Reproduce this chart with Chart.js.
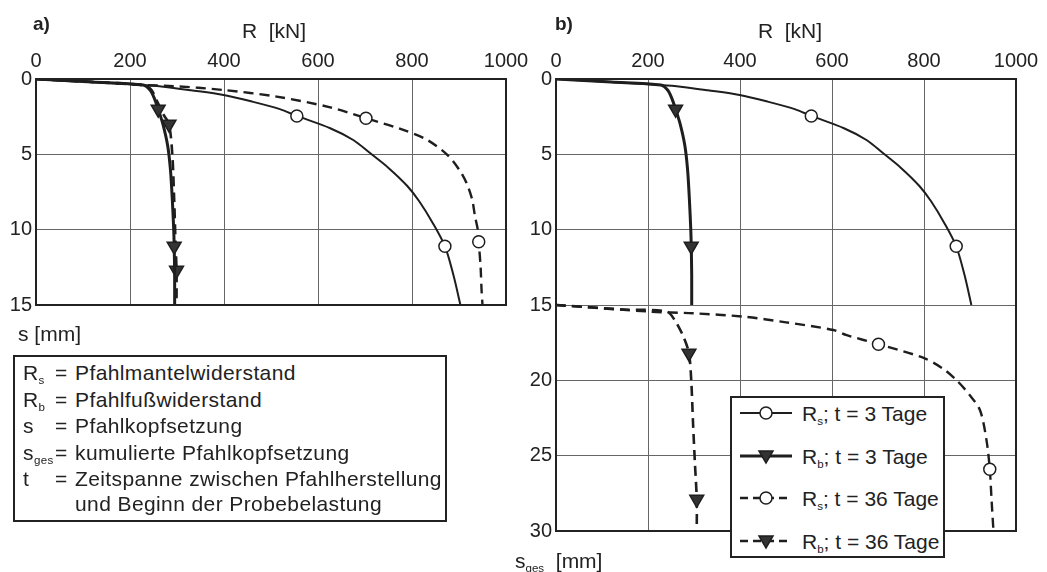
<!DOCTYPE html>
<html lang="de">
<head>
  <meta charset="UTF-8">
  <title>Pfahlprobebelastung</title>
  <style>
    body {
      margin: 0;
      width: 1047px;
      height: 572px;
      overflow: hidden;
      background: white;
      font-family: "Liberation Sans", Arial, sans-serif;
      color: #222;
      position: relative;
    }
    canvas { position: absolute; top: 0; }
    #chartA { left: 0; }
    #chartB { left: 520px; }
    .lbl { position: absolute; white-space: nowrap; line-height: 1; }
    .tag { font-weight: bold; font-size: 19px; top: 14px; }
    .xt { font-size: 21px; top: 20px; transform: translateX(-50%); }
    .yt { font-size: 21px; }
    sub { font-size: 55%; vertical-align: -0.35em; line-height: 0; }

    .defs {
      position: absolute;
      left: 13px; top: 355px;
      width: 430px; height: 160px;
      border: 2px solid #222;
      font-size: 21px;
      letter-spacing: 0.4px;
      line-height: 26.5px;
      padding-top: 3px;
      box-sizing: content-box;
    }
    .defs div { position: relative; padding-left: 60px; height: 26.5px; }
    .defs .k { position: absolute; left: 8px; }
    .defs .eq { position: absolute; left: 40px; }
    .defs .wrap { height: 23px; line-height: 21px; }

    .legend {
      position: absolute;
      left: 730px; top: 396px;
      width: 211px; height: 158px;
      border: 2px solid #222;
      background: white;
    }
    .legend .row { position: absolute; left: 8px; height: 24px; }
    .legend canvas { position: absolute; left: 0; top: 2px; }
    .legend span { position: absolute; left: 62px; top: 1px; font-size: 21px; white-space: nowrap; }
  </style>
</head>
<body>
  <canvas id="chartA" width="545" height="330"></canvas>
  <canvas id="chartB" width="527" height="572"></canvas>

  <div class="lbl tag" style="left:33px">a)</div>
  <div class="lbl tag" style="left:555px">b)</div>
  <div class="lbl xt" style="left:274px">R&nbsp; [kN]</div>
  <div class="lbl xt" style="left:790px">R&nbsp; [kN]</div>
  <div class="lbl yt" style="left:18px; top:323px">s [mm]</div>
  <div class="lbl yt" style="left:515px; top:550px">s<sub>ges</sub>&nbsp; [mm]</div>

  <div class="defs">
    <div><span class="k">R<sub>s</sub></span><span class="eq">=</span>Pfahlmantelwiderstand</div>
    <div><span class="k">R<sub>b</sub></span><span class="eq">=</span>Pfahlfußwiderstand</div>
    <div><span class="k">s</span><span class="eq">=</span>Pfahlkopfsetzung</div>
    <div><span class="k">s<sub>ges</sub></span><span class="eq">=</span>kumulierte Pfahlkopfsetzung</div>
    <div><span class="k">t</span><span class="eq">=</span>Zeitspanne zwischen Pfahlherstellung</div>
    <div class="wrap">und Beginn der Probebelastung</div>
  </div>

  <div class="legend" id="legend"></div>

  <script src="https://cdn.jsdelivr.net/npm/chart.js"></script>
  <script>
    // R [kN] against s [mm]
    const xTicks = [0, 200, 400, 600, 800, 1000];
    const yTicksA = [0, 5, 10, 15];
    const yTicksB = [0, 5, 10, 15, 20, 25, 30];

    const rs3R = [0, 120, 228, 271, 330, 399, 460, 519, 555, 626, 675, 710, 750, 790, 815, 845, 870, 888, 903];
    const rs3S = [0, 0.2, 0.4, 0.51, 0.75, 1.06, 1.5, 2.0, 2.45, 3.27, 4.05, 4.9, 5.9, 7.1, 8.1, 9.6, 11.1, 13, 15];
    const rs3Marks = [8, 16];

    const rb3R = [0, 120, 228, 243, 252, 260, 270, 280, 286, 290, 293, 294, 295, 295];
    const rb3S = [0, 0.2, 0.4, 0.75, 1.3, 2.0, 3.0, 4.4, 6, 8, 10, 11.1, 13, 15];
    const rb3Marks = [5, 11];

    // a): 36 Tage, s
    const rs36R = [0, 120, 228, 292, 399, 512, 626, 702, 774, 830, 874, 900, 916, 928, 934, 940, 942, 946, 948, 950];
    const rs36S = [0, 0.2, 0.4, 0.47, 0.73, 1.17, 1.88, 2.6, 3.3, 4.0, 5.0, 6.0, 6.9, 8.0, 9.1, 10.0, 10.8, 12.5, 14, 15];
    const rs36Marks = [7, 16];

    const rb36R = [0, 120, 228, 245, 258, 272, 283, 290, 294, 297, 299, 299];
    const rb36S = [0, 0.2, 0.4, 0.7, 1.5, 2.4, 3.0, 5, 8, 11, 12.7, 15];
    const rb36Marks = [6, 10];

    // b): 36 Tage, s_ges
    const rs36gR = [0, 204, 298, 407, 500, 603, 632, 701, 798, 840, 871, 900, 922, 936, 943, 947, 951];
    const rs36gS = [15, 15.44, 15.55, 15.77, 16.15, 16.66, 17.0, 17.6, 18.5, 19.2, 20, 21, 22, 24, 25.9, 28, 30];
    const rs36gMarks = [7, 14];

    const rb36gR = [0, 150, 241, 258, 277, 289, 294, 298, 302, 306, 306];
    const rb36gS = [15, 15.3, 15.44, 16.0, 17.1, 18.2, 20, 22.9, 25.5, 27.9, 29.7];
    const rb36gMarks = [5, 9];

    const ink = '#1e1e1e';
    const styles = {
      rs3:  { width: 2,   dash: [],      marker: 'circle' },
      rb3:  { width: 3,   dash: [],      marker: 'triangle' },
      rs36: { width: 2.4, dash: [10, 6], marker: 'circle' },
      rb36: { width: 2.6, dash: [10, 6], marker: 'triangle' }
    };

    function pts(xs, ys) {
      return xs.map((x, i) => ({ x: x, y: ys[i] }));
    }

    function series(xs, ys, marks, st) {
      const tri = st.marker === 'triangle';
      return {
        data: pts(xs, ys),
        showLine: true,
        borderColor: ink,
        borderWidth: st.width,
        borderDash: st.dash,
        tension: 0.3,
        pointStyle: st.marker,
        pointRotation: tri ? 180 : 0,
        pointRadius: ctx => marks.includes(ctx.dataIndex) ? (tri ? 8 : 6) : 0,
        pointHoverRadius: 0,
        pointBackgroundColor: tri ? '#333' : '#fff',
        pointBorderColor: ink,
        pointBorderWidth: 1.5
      };
    }

    const framePlugin = {
      id: 'frame',
      afterDraw(chart) {
        const a = chart.chartArea;
        const ctx = chart.ctx;
        ctx.save();
        ctx.strokeStyle = '#222';
        ctx.lineWidth = 2;
        ctx.strokeRect(a.left, a.top, a.right - a.left, a.bottom - a.top);
        ctx.restore();
      }
    };

    Chart.defaults.font.family = '"Liberation Sans", Arial, sans-serif';
    Chart.defaults.color = '#222';

    function makeChart(id, yTicks, datasets, pad) {
      const yMax = yTicks[yTicks.length - 1];
      return new Chart(document.getElementById(id), {
        type: 'scatter',
        data: { datasets: datasets },
        options: {
          responsive: false,
          animation: false,
          layout: { padding: pad },
          plugins: { legend: { display: false }, tooltip: { enabled: false } },
          scales: {
            x: {
              type: 'linear',
              position: 'top',
              min: 0, max: 1000,
              afterBuildTicks: s => { s.ticks = xTicks.map(v => ({ value: v })); },
              afterFit: s => { s.height = 79; },
              ticks: { font: { size: 20 }, padding: 6, color: '#222', callback: v => String(v) },
              grid: { color: '#666', lineWidth: 1, drawTicks: false },
              border: { display: false }
            },
            y: {
              type: 'linear',
              reverse: true,
              min: 0, max: yMax,
              afterBuildTicks: s => { s.ticks = yTicks.map(v => ({ value: v })); },
              afterFit: s => { s.width = 36; },
              ticks: { font: { size: 20 }, padding: 4, color: '#222', callback: v => String(v) },
              grid: { color: '#666', lineWidth: 1, drawTicks: false },
              border: { display: false }
            }
          }
        },
        plugins: [framePlugin]
      });
    }

    makeChart('chartA', yTicksA, [
      series(rs3R, rs3S, rs3Marks, styles.rs3),
      series(rs36R, rs36S, rs36Marks, styles.rs36),
      series(rb3R, rb3S, rb3Marks, styles.rb3),
      series(rb36R, rb36S, rb36Marks, styles.rb36)
    ], { top: 0, left: 0, right: 39, bottom: 25 });

    makeChart('chartB', yTicksB, [
      series(rs3R, rs3S, rs3Marks, styles.rs3),
      series(rb3R, rb3S, rb3Marks, styles.rb3),
      series(rs36gR, rs36gS, rs36gMarks, styles.rs36),
      series(rb36gR, rb36gS, rb36gMarks, styles.rb36)
    ], { top: 0, left: 0, right: 31, bottom: 41 });

    // legend of b)
    const legendItems = [
      { key: 'rs3',  sub: 's', text: 't = 3 Tage' },
      { key: 'rb3',  sub: 'b', text: 't = 3 Tage' },
      { key: 'rs36', sub: 's', text: 't = 36 Tage' },
      { key: 'rb36', sub: 'b', text: 't = 36 Tage' }
    ];
    const legend = document.getElementById('legend');
    legendItems.forEach((item, i) => {
      const st = styles[item.key];
      const row = document.createElement('div');
      row.className = 'row';
      row.style.top = (3 + i * 42.5) + 'px';
      const c = document.createElement('canvas');
      c.width = 52; c.height = 20;
      const g = c.getContext('2d');
      g.strokeStyle = ink;
      g.lineWidth = st.width;
      g.setLineDash(st.dash.length ? [8, 5] : []);
      g.beginPath(); g.moveTo(0, 10); g.lineTo(52, 10); g.stroke();
      g.setLineDash([]);
      g.lineWidth = 1.5;
      if (st.marker === 'circle') {
        g.fillStyle = '#fff';
        g.beginPath(); g.arc(26, 10, 6, 0, Math.PI * 2); g.fill(); g.stroke();
      } else {
        g.fillStyle = '#333';
        g.beginPath(); g.moveTo(19, 5); g.lineTo(33, 5); g.lineTo(26, 17); g.closePath(); g.fill(); g.stroke();
      }
      row.appendChild(c);
      const s = document.createElement('span');
      s.innerHTML = 'R<sub>' + item.sub + '</sub>; ' + item.text;
      row.appendChild(s);
      legend.appendChild(row);
    });
  </script>
</body>
</html>
